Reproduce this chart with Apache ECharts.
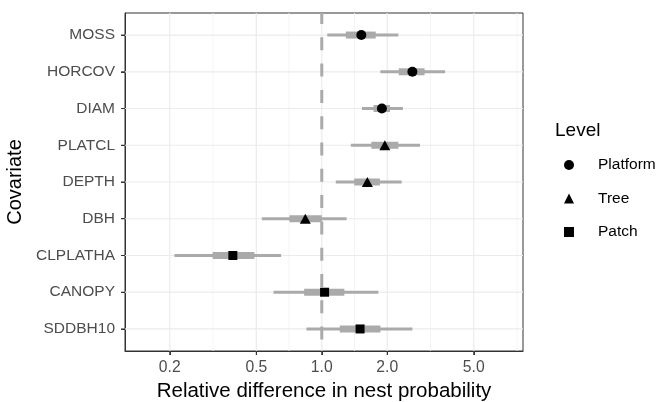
<!DOCTYPE html>
<html><head><meta charset="utf-8">
<script src="https://cdn.jsdelivr.net/npm/echarts@6/dist/echarts.min.js"></script>
<style>html,body{margin:0;padding:0;background:#fff;} #chart{width:659px;height:402px;}</style>
</head><body><div id="chart"></div>
<script>
const categories = ['MOSS','HORCOV','DIAM','PLATCL','DEPTH','DBH','CLPLATHA','CANOPY','SDDBH10'];
const levelOfCovariate = ['Platform','Platform','Platform','Tree','Tree','Tree','Patch','Patch','Patch'];
const levelNames = ['Platform','Tree','Patch'];
const levelSymbols = ['circle','triangle','rect'];
const estimate = [1.52, 2.61, 1.89, 1.95, 1.62, 0.84, 0.39, 1.03, 1.50];
const lower95 = [1.06, 1.86, 1.53, 1.36, 1.16, 0.53, 0.21, 0.60, 0.85];
const upper95 = [2.25, 3.69, 2.36, 2.83, 2.33, 1.30, 0.65, 1.82, 2.61];
const lower50 = [1.29, 2.26, 1.73, 1.69, 1.41, 0.71, 0.315, 0.83, 1.21];
const upper50 = [1.77, 2.97, 2.06, 2.25, 1.85, 1.00, 0.49, 1.27, 1.86];
const xTicks = [0.2, 0.5, 1.0, 2.0, 5.0];
const xTickLabels = ['0.2','0.5','1.0','2.0','5.0'];
const xMinorTicks = [0.3162, 0.7071, 1.4142, 3.1623, 7.9057];
const xLimits = [0.1245, 8.42];
const refValue = 1.0;

const L = Math.log10;
const FONT = '"Liberation Sans", Arial, sans-serif';
const yIdx = categories.map((c, i) => i);

const errData = categories.map((c, i) => [L(lower95[i]), L(upper95[i]), L(lower50[i]), L(upper50[i]), i]);

const pointSeries = levelNames.map((lv, k) => ({
  type: 'scatter', name: lv, symbol: levelSymbols[k],
  symbolSize: k === 1 ? [11, 10] : (k === 2 ? 9 : 10),
  itemStyle: {color: '#000000', opacity: 1}, z: 5,
  emphasis: {disabled: true},
  data: categories.map((c, i) => levelOfCovariate[i] === lv ? [L(estimate[i]), i] : null).filter(d => d)
}));

const chart = echarts.init(document.getElementById('chart'), null, {renderer: 'canvas'});
chart.setOption({
  animation: false,
  backgroundColor: '#ffffff',
  tooltip: {show: false},
  textStyle: {fontFamily: FONT},
  title: {text: 'Level', left: 555, top: 121, padding: 0,
    textStyle: {fontFamily: FONT, fontSize: 19, fontWeight: 'normal', color: '#000'}},
  legend: {
    orient: 'vertical', left: 564, top: 157, padding: 0, itemWidth: 10, itemHeight: 10, itemGap: 17.5,
    data: levelNames.map((n, k) => ({name: n, icon: levelSymbols[k]})),
    itemStyle: {opacity: 1, color: '#000'},
    textStyle: {fontFamily: FONT, fontSize: 15.5, color: '#000', lineHeight: 16, padding: [0, 0, 0, 19]},
    selectedMode: false
  },
  grid: {left: 125, right: 136, top: 13, bottom: 51, show: true, borderColor: '#333333', borderWidth: 1,
    backgroundColor: '#fff', outerBoundsMode: 'none', containLabel: false},
  xAxis: {
    type: 'value', min: L(xLimits[0]), max: L(xLimits[1]),
    name: 'Relative difference in nest probability', nameLocation: 'middle', nameGap: 30,
    nameTextStyle: {fontFamily: FONT, fontSize: 20.5, color: '#000'},
    axisLine: {show: true, onZero: false, lineStyle: {color: '#333', width: 1}},
    axisTick: {show: true, length: 4, lineStyle: {color: '#333', width: 1}, customValues: xTicks.map(L)},
    axisLabel: {customValues: xTicks.map(L), margin: 9, fontFamily: FONT, fontSize: 15.7, color: '#4d4d4d',
      formatter: v => { let best = 0; xTicks.forEach((t, j) => { if (Math.abs(L(t) - v) < Math.abs(L(xTicks[best]) - v)) best = j; }); return xTickLabels[best]; }},
    splitLine: {show: false}
  },
  yAxis: {
    type: 'value', min: -0.6, max: 8.6, inverse: true,
    name: 'Covariate', nameLocation: 'middle', nameGap: 98, nameRotate: 90,
    nameTextStyle: {fontFamily: FONT, fontSize: 20, color: '#000'},
    axisLine: {show: true, onZero: false, lineStyle: {color: '#333', width: 1}},
    axisTick: {show: true, length: 4, lineStyle: {color: '#333', width: 1}, customValues: yIdx},
    axisLabel: {customValues: yIdx, margin: 10, fontFamily: FONT, fontSize: 15.5, color: '#4d4d4d',
      formatter: v => categories[Math.round(v)]},
    splitLine: {show: false}
  },
  series: [
    {type: 'custom', z: 1, silent: true, clip: false, data: [[L(refValue), 4]], encode: {x: 0, y: 1},
      emphasis: {disabled: true},
      renderItem: function (params, api) {
        const cs = params.coordSys;
        const children = [];
        xMinorTicks.forEach(v => {
          const x = api.coord([L(v), 0])[0];
          children.push({type: 'line', shape: {x1: x, y1: cs.y, x2: x, y2: cs.y + cs.height},
            style: {stroke: '#f3f3f3', lineWidth: 0.9}});
        });
        xTicks.forEach(v => {
          const x = api.coord([L(v), 0])[0];
          children.push({type: 'line', shape: {x1: x, y1: cs.y, x2: x, y2: cs.y + cs.height},
            style: {stroke: '#ebebeb', lineWidth: 1.2}});
          children.push({type: 'line', shape: {x1: x, y1: cs.y + cs.height, x2: x, y2: cs.y + cs.height + 4},
            style: {stroke: '#333333', lineWidth: 1}});
        });
        yIdx.forEach(i => {
          const y = api.coord([0, i])[1];
          children.push({type: 'line', shape: {x1: cs.x, y1: y, x2: cs.x + cs.width, y2: y},
            style: {stroke: '#ebebeb', lineWidth: 1.2}});
          children.push({type: 'line', shape: {x1: cs.x - 4, y1: y, x2: cs.x, y2: y},
            style: {stroke: '#333333', lineWidth: 1}});
        });
        const xr = api.coord([api.value(0), 0])[0];
        children.push({type: 'line', shape: {x1: xr, y1: cs.y, x2: xr, y2: cs.y + cs.height},
          style: {stroke: '#aaaaaa', lineWidth: 3, lineDash: [13, 13.3], lineDashOffset: 2}});
        return {type: 'group', children: children};
      }},
    {type: 'custom', z: 3, silent: true, data: errData,
      emphasis: {disabled: true},
      encode: {x: [0, 1, 2, 3], y: 4},
      renderItem: function (params, api) {
        const y = api.value(4);
        const a = api.coord([api.value(0), y]);
        const b = api.coord([api.value(1), y]);
        const c = api.coord([api.value(2), y]);
        const d = api.coord([api.value(3), y]);
        return {type: 'group', children: [
          {type: 'line', shape: {x1: a[0], y1: a[1], x2: b[0], y2: b[1]}, style: {stroke: '#aaaaaa', lineWidth: 3, lineCap: 'butt'}},
          {type: 'line', shape: {x1: c[0], y1: c[1], x2: d[0], y2: d[1]}, style: {stroke: '#aaaaaa', lineWidth: 7, lineCap: 'butt'}}
        ]};
      }},
    ...pointSeries
  ]
});
</script></body></html>
